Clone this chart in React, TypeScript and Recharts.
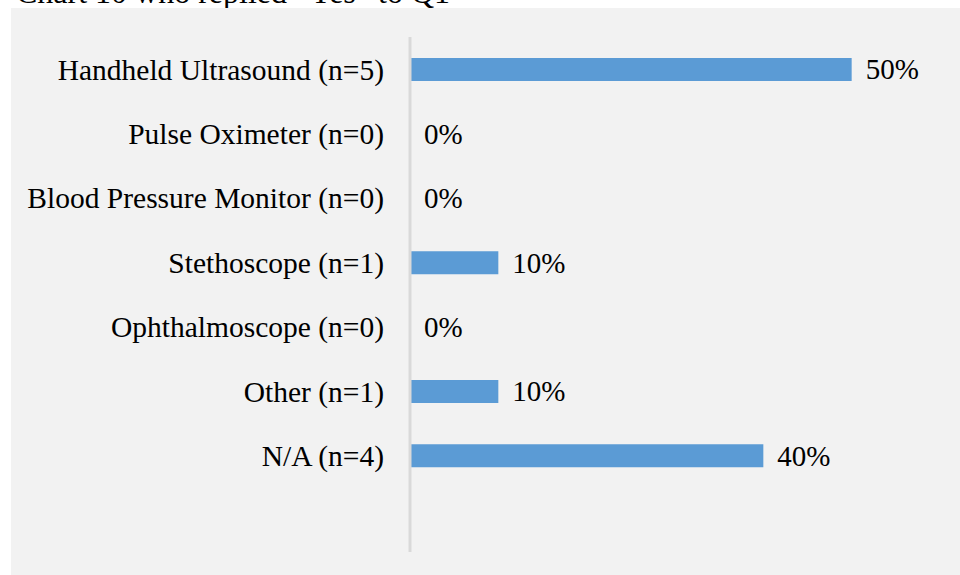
import { ComposedChart, Bar, Line, XAxis, YAxis, LabelList } from "recharts";

const categories = [
  "Handheld Ultrasound (n=5)",
  "Pulse Oximeter (n=0)",
  "Blood Pressure Monitor (n=0)",
  "Stethoscope (n=1)",
  "Ophthalmoscope (n=0)",
  "Other (n=1)",
  "N/A (n=4)",
  "",
];
const shares = [0.5, 0, 0, 0.1, 0, 0.1, 0.4, null];

const data = categories.map((name, i) => ({ name, share: shares[i] }));

const serif = "'Liberation Serif', 'Times New Roman', serif";

export default function App() {
  return (
    <div
      style={{
        position: "fixed",
        left: 0,
        top: 0,
        width: 960,
        height: 575,
        overflow: "hidden",
        background: "#ffffff",
      }}
    >
      <svg
        width={960}
        height={10}
        style={{ position: "absolute", left: 0, top: 0 }}
      >
        <text x={16} y={3} fontFamily={serif} fontSize={32} fill="#000">
          Chart 10 who replied “Yes” to Q1
        </text>
      </svg>
      <div
        style={{
          position: "absolute",
          left: 11,
          top: 8,
          width: 949,
          height: 567,
          background: "#f2f2f2",
        }}
      >
        <ComposedChart
          width={949}
          height={567}
          data={data}
          layout="vertical"
          margin={{ top: 29, right: 20, bottom: 23, left: 0 }}
        >
          <XAxis type="number" domain={[0, 0.6]} hide />
          <YAxis
            type="category"
            dataKey="name"
            width={399}
            axisLine={{ stroke: "#d9d9d9", strokeWidth: 3 }}
            tickLine={false}
            tickSize={0}
            tickMargin={26}
            interval={0}
            tick={{ fill: "#000", fontSize: 29.5, fontFamily: serif }}
          />
          <Bar
            dataKey="share"
            fill="#5b9bd5"
            barSize={23}
            isAnimationActive={false}
          />
          {/* invisible line carries the value labels so 0% rows get one too */}
          <Line
            dataKey="share"
            stroke="none"
            dot={false}
            activeDot={false}
            isAnimationActive={false}
          >
            <LabelList
              dataKey="share"
              position="right"
              offset={14}
              fill="#000"
              fontSize={29}
              fontFamily={serif}
              formatter={(v: any) =>
                v === null || v === undefined ? "" : `${Math.round(v * 100)}%`
              }
            />
          </Line>
        </ComposedChart>
      </div>
    </div>
  );
}
